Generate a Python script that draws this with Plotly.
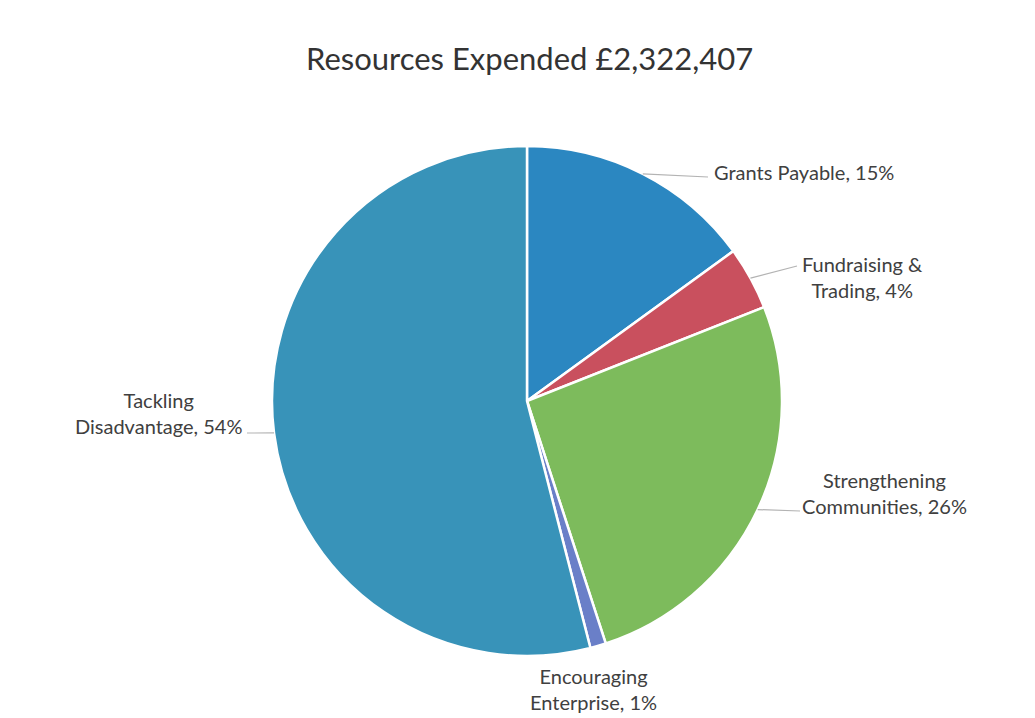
import math
import plotly.graph_objects as go

# Resource expenditure breakdown (percent of £2,322,407)
categories = ["Grants Payable", "Fundraising & Trading", "Strengthening Communities",
              "Encouraging Enterprise", "Tackling Disadvantage"]
label_lines = [["Grants Payable, 15%"], ["Fundraising &", "Trading, 4%"],
               ["Strengthening", "Communities, 26%"], ["Encouraging", "Enterprise, 1%"],
               ["Tackling", "Disadvantage, 54%"]]
values = [15, 4, 26, 1, 54]
colors = ["#2b87c1", "#c9505e", "#7dbb5c", "#6a7fc8", "#3893b9"]
title_text = "Resources Expended £2,322,407"

W, H = 1035, 718
CX, CY, R = 527, 401, 255  # pie centre and radius in pixels

# label placement (pixel position of text block, leader line end point)
label_pos = [
    dict(x=712, y=172, anchor="left", line_end=(708, 177)),
    dict(x=862, y=277, anchor="center", line_end=(797, 266)),
    dict(x=884, y=493, anchor="center", line_end=(800, 511)),
    dict(x=593, y=689, anchor="center", line_end=None),
    dict(x=158, y=413, anchor="center", line_end=(247, 433)),
]


def px(x):
    return x / W


def py(y):
    return 1 - y / H


fig = go.Figure(go.Pie(
    labels=categories,
    values=values,
    sort=False,
    direction="clockwise",
    rotation=0,
    marker=dict(colors=colors, line=dict(color="white", width=2.5)),
    textinfo="none",
    hoverinfo="label+percent",
    showlegend=False,
    domain=dict(x=[px(CX - R), px(CX + R)], y=[py(CY + R), py(CY - R)]),
))

annotations = []
shapes = []
total = sum(values)
cum = 0
for cat, lines, v, pos in zip(categories, label_lines, values, label_pos):
    mid = (cum + v / 2) / total * 2 * math.pi
    cum += v
    rx = CX + R * math.sin(mid)
    ry = CY - R * math.cos(mid)
    annotations.append(dict(
        x=px(pos["x"]), y=py(pos["y"]), xref="paper", yref="paper",
        text="<br>".join(lines), showarrow=False, align="center",
        xanchor=pos["anchor"], yanchor="middle",
        font=dict(family="Lato, Open Sans, sans-serif", size=20, color="#404040"),
    ))
    if pos["line_end"] is not None:
        ex, ey = pos["line_end"]
        shapes.append(dict(
            type="line", xref="paper", yref="paper",
            x0=px(rx), y0=py(ry), x1=px(ex), y1=py(ey),
            line=dict(color="#b3b3b3", width=1.2),
        ))

annotations.append(dict(
    x=px(529), y=py(58), xref="paper", yref="paper", text=title_text,
    showarrow=False, xanchor="center", yanchor="middle",
    font=dict(family="Lato, Open Sans, sans-serif", size=31, color="#333333"),
))

fig.update_layout(
    width=W, height=H,
    margin=dict(l=0, r=0, t=0, b=0),
    paper_bgcolor="white",
    plot_bgcolor="white",
    annotations=annotations,
    shapes=shapes,
)

fig.write_html("out.html")
